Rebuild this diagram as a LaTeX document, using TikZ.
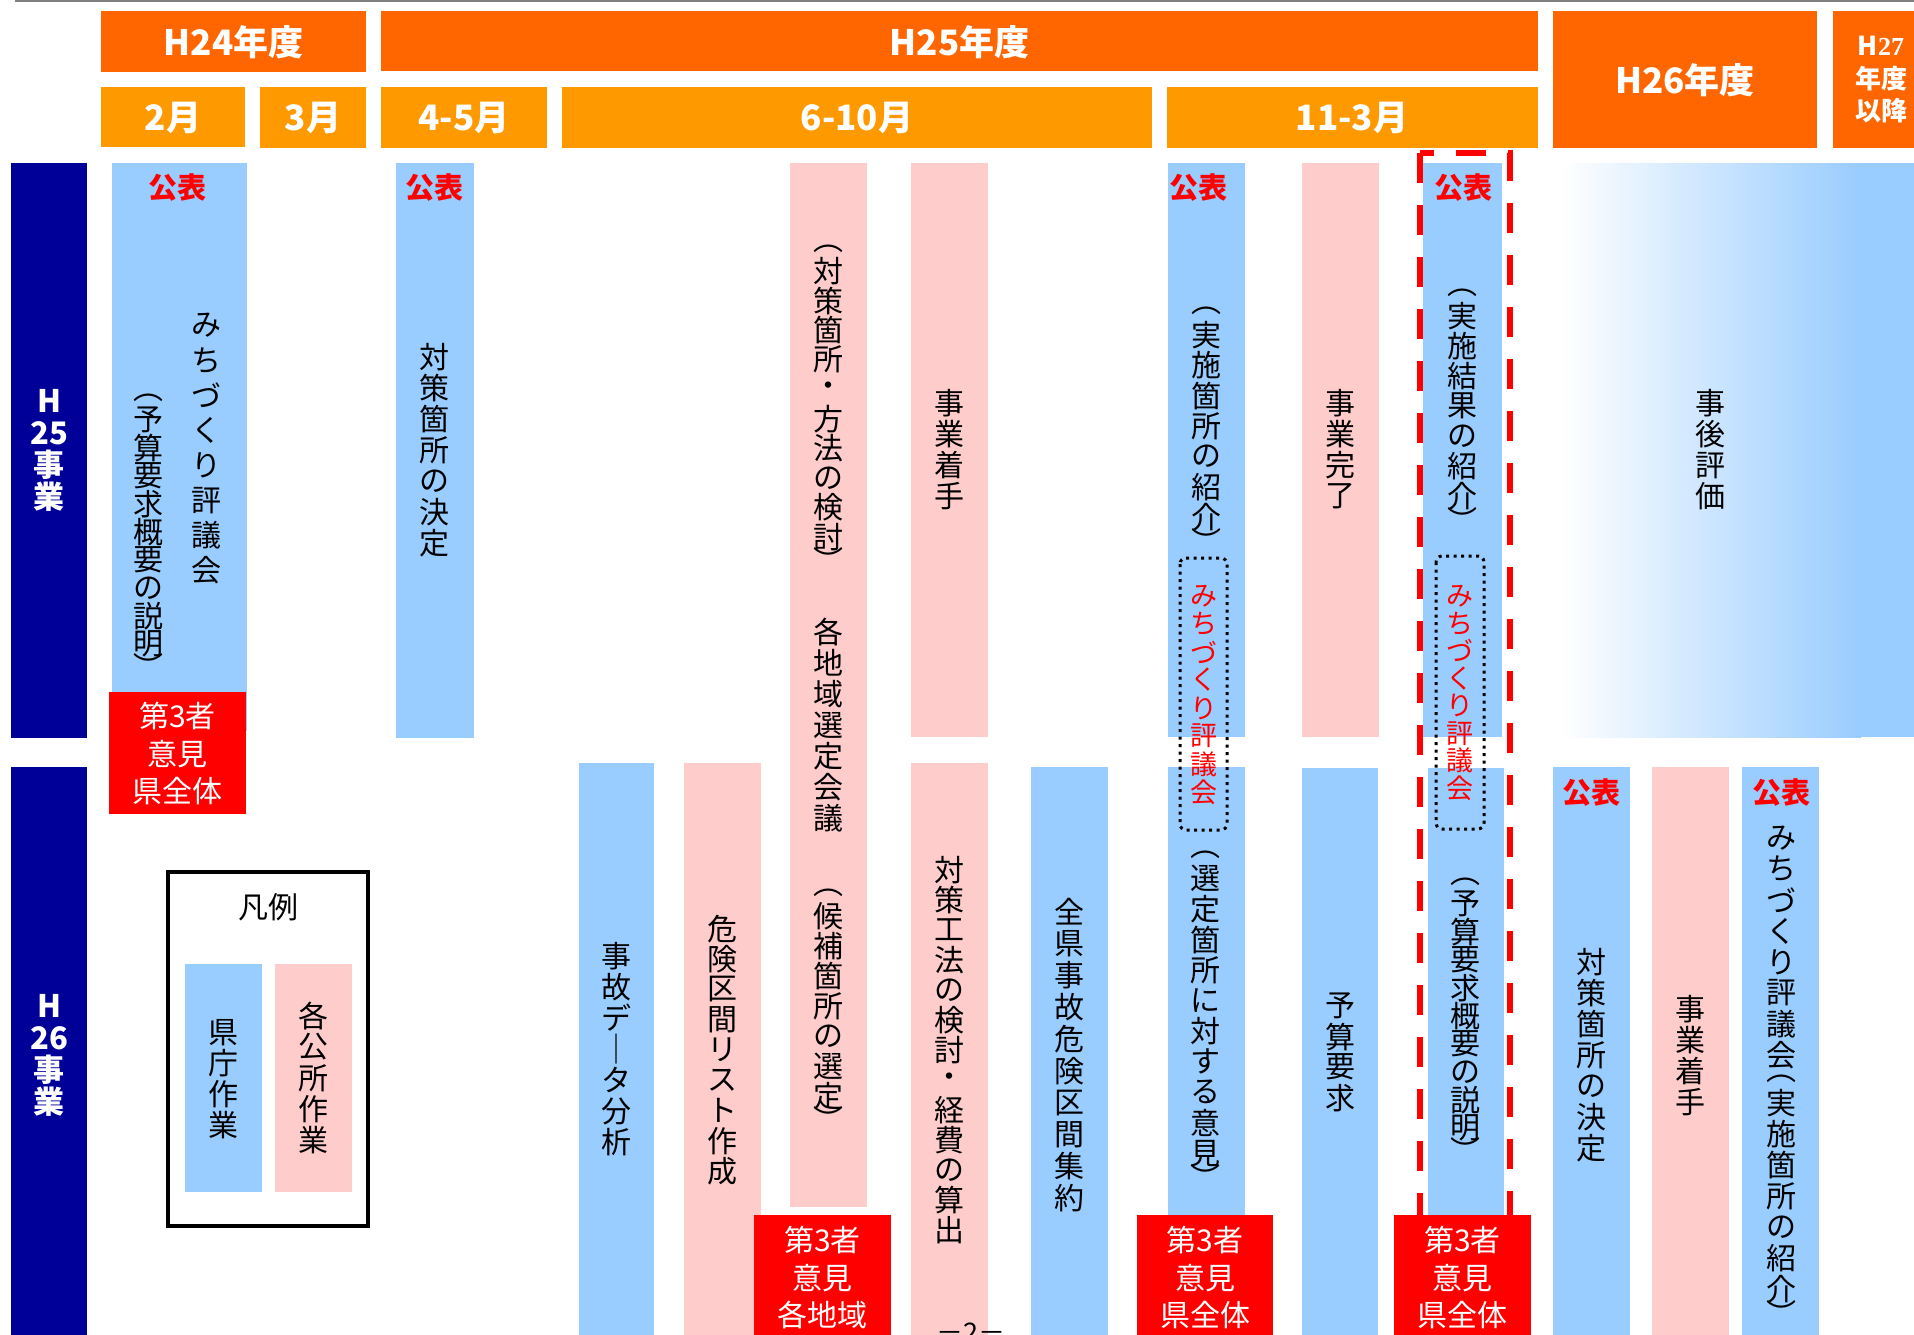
\documentclass[tikz,border=0pt]{standalone}
\usepackage{fontspec}
\usepackage{graphicx}
\setmainfont{Noto Sans CJK JP}
\newfontfamily\jp{Noto Sans CJK JP}
\newfontfamily\lserif{Liberation Serif}
\newcommand\fsz[1]{\fontsize{#1}{#1}\selectfont}
\definecolor{cblue}{HTML}{99CCFF}
\definecolor{cpink}{HTML}{FFCCCC}
\definecolor{cnavy}{HTML}{000099}
\definecolor{corange}{HTML}{FF6600}
\definecolor{clorange}{HTML}{FF9900}
\definecolor{cred}{HTML}{FF0000}
\makeatletter
\def\vt@po{（}\def\vt@pc{）}\def\vt@ln{ー}
\newdimen\vt@p
\newcommand\vt@box[2]{\hbox to 1.2em{\hss\vbox to #1{\vss\hbox{#2}\vss}\hss}}
\newcommand\vt[2]{\vbox{\offinterlineskip\vt@p=#1\relax
  \@tfor\vt@c:=#2\do{%
    \ifx\vt@c\vt@po\vt@box{0.55\vt@p}{︵}%
    \else\ifx\vt@c\vt@pc\vt@box{0.55\vt@p}{︶}%
    \else\ifx\vt@c\vt@ln\vt@box{\vt@p}{｜}%
    \else\vt@box{\vt@p}{\vt@c}\fi\fi\fi}}}
\makeatother
\begin{document}
\begin{tikzpicture}[x=1pt,y=-1pt]
\tikzset{
 lbl/.style={inner sep=0pt,outer sep=0pt},
 hdr/.style={lbl,text=white,font={\jp\bfseries\fsz{35}}},
 hdrs/.style={lbl,text=white,align=center,font={\jp\bfseries\fontsize{26}{32.5}\selectfont}},
 vtx/.style={lbl,text=black,font={\jp\fsz{30}}},
 vred/.style={lbl,text=cred,font={\jp\fsz{27}}},
 pub/.style={lbl,text=cred,font={\jp\bfseries\fsz{29}}},
 tp/.style={lbl,text=white,align=center,font={\jp\fontsize{30}{37.5}\selectfont}},
 navytxt/.style={lbl,text=white,align=center,font={\jp\bfseries\fontsize{31}{32}\selectfont}},
 dotbox/.style={draw=black,line width=3pt,dash pattern=on 3pt off 4.5pt,rounded corners=6pt},
 reddash/.style={draw=cred,line width=6pt,dash pattern=on 30pt off 22pt},
}
\useasboundingbox (0,0) rectangle (1914,1335);
\fill[white] (0,0) rectangle (1914,1335);
% top rule
\fill[gray] (15,0) rectangle (1914,2);
% header
\fill[corange] (101,11) rectangle (366,72);
\fill[corange] (381,11) rectangle (1538,71);
\fill[corange] (1553,11) rectangle (1817,148);
\fill[corange] (1833,11) rectangle (1914,148);
\fill[clorange] (101,87) rectangle (245,147);
\fill[clorange] (260,87) rectangle (366,148);
\fill[clorange] (381,87) rectangle (547,148);
\fill[clorange] (562,87) rectangle (1152,148);
\fill[clorange] (1167,87) rectangle (1538,148);
\node[hdr] (y24) at (233.5,42) {H24年度};
\node[hdr] (y25) at (959.5,42) {H25年度};
\node[hdr] (y26) at (1685,80) {H26年度};
\node[hdrs] (y27) at (1881,80) {H{\lserif 27}\\年度\\以降};
\node[hdr] (m2) at (173,118) {2月};
\node[hdr] (m3) at (313,118) {3月};
\node[hdr] (m45) at (464,118) {4-5月};
\node[hdr] (m610) at (857,118) {6-10月};
\node[hdr] (m113) at (1352,118) {11-3月};
% navy row labels
\fill[cnavy] (11,163) rectangle (87,738);
\fill[cnavy] (11,767) rectangle (87,1335);
\node[navytxt] (r25) at (49,450) {H\\25\\事\\業};
\node[navytxt] (r26) at (49,1055) {H\\26\\事\\業};
% top row bars
\fill[cblue] (112,163) rectangle (247,731);
\fill[cblue] (396,163) rectangle (474,738);
\fill[cpink] (790,163) rectangle (867,1207);
\fill[cpink] (911,163) rectangle (988,737);
\fill[cblue] (1168,163) rectangle (1245,737);
\fill[cpink] (1302,163) rectangle (1379,737);
\fill[cblue] (1423,163) rectangle (1502,737);
\shade[left color=white,right color=cblue] (1560,163) rectangle (1861,737);
\fill[cblue] (1860,163) rectangle (1914,737);
% bottom row bars
\fill[cblue] (579,763) rectangle (654,1335);
\fill[cpink] (684,763) rectangle (761,1335);
\fill[cpink] (911,763) rectangle (988,1335);
\fill[cblue] (1031,767) rectangle (1108,1335);
\fill[cblue] (1168,767) rectangle (1245,1215);
\fill[cblue] (1302,768) rectangle (1378,1335);
\fill[cblue] (1428,768) rectangle (1504,1215);
\fill[cblue] (1553,767) rectangle (1630,1335);
\fill[cpink] (1652,767) rectangle (1729,1335);
\fill[cblue] (1742,767) rectangle (1819,1335);
% red dashed highlight (bottom edge hidden under the red box)
\draw[reddash] (1420,153) rectangle (1510,1240);
% red third-party boxes
\fill[cred] (109,692) rectangle (246,814);
\fill[cred] (754,1215) rectangle (891,1340);
\fill[cred] (1137,1215) rectangle (1273,1340);
\fill[cred] (1394,1215) rectangle (1531,1340);
\node[tp] (o1) at (177.5,754) {第3者\\意見\\県全体};
\node[tp] (o2) at (822.5,1278) {第3者\\意見\\各地域};
\node[tp] (o3) at (1205,1278) {第3者\\意見\\県全体};
\node[tp] (o4) at (1462.5,1278) {第3者\\意見\\県全体};
% publish labels
\node[pub] (p1) at (177,188) {公表};
\node[pub] (p2) at (434,188) {公表};
\node[pub] (p3) at (1198,188) {公表};
\node[pub] (p4) at (1463,188) {公表};
\node[pub] (p5) at (1591,793) {公表};
\node[pub] (p6) at (1781,793) {公表};
% top row texts
\node[vtx] (t1) at (206,448) {\vt{35pt}{みちづくり評議会}};
\node[vtx] (t2) at (148,532) {\vt{28pt}{（予算要求概要の説明）}};
\node[vtx] (t3) at (434,450) {\vt{31pt}{対策箇所の決定}};
\node[vtx] (t4) at (828,404) {\vt{29.5pt}{（対策箇所・方法の検討）}};
\node[vtx] (t5) at (828,725) {\vt{31pt}{各地域選定会議}};
\node[vtx] (t6) at (828,1006) {\vt{30pt}{（候補箇所の選定）}};
\node[vtx] (t7) at (949.5,450) {\vt{31pt}{事業着手}};
\node[vtx] (t8) at (1206,426) {\vt{30.4pt}{（実施箇所の紹介）}};
\node[vtx] (t9) at (1340,450) {\vt{31pt}{事業完了}};
\node[vtx] (t10) at (1462,406) {\vt{30.1pt}{（実施結果の紹介）}};
\node[vtx] (t11) at (1710,450) {\vt{31pt}{事後評価}};
% mitizukuri in dotted boxes
\node[vred] (k1) at (1204,694) {\vt{28pt}{みちづくり評議会}};
\node[vred] (k2) at (1460,692) {\vt{27.5pt}{みちづくり評議会}};
\draw[dotbox] (1180,558) rectangle (1227,830);
\draw[dotbox] (1436,556) rectangle (1484,829);
% bottom row texts
\node[vtx] (b1) at (616,1049) {\vt{31pt}{事故データ分析}};
\node[vtx] (b2) at (722,1050) {\vt{30.3pt}{危険区間リスト作成}};
\node[vtx] (b3) at (949.5,1050) {\vt{30pt}{対策工法の検討・経費の算出}};
\node[vtx] (b4) at (1069,1055) {\vt{31.8pt}{全県事故危険区間集約}};
\node[vtx] (b5) at (1205,1016) {\vt{30.5pt}{（選定箇所に対する意見）}};
\node[vtx] (b6) at (1340,1052) {\vt{30.5pt}{予算要求}};
\node[vtx] (b7) at (1465,1016) {\vt{28pt}{（予算要求概要の説明）}};
\node[vtx] (b8) at (1591,1055) {\vt{30.9pt}{対策箇所の決定}};
\node[vtx] (b9) at (1690.5,1056) {\vt{31pt}{事業着手}};
\node[vtx] (b10) at (1781,1072) {\vt{31pt}{みちづくり評議会（実施箇所の紹介）}};
% legend
\draw[line width=3.5pt] (168,872) rectangle (368,1226);
\node[vtx] (lg) at (268,907) {凡例};
\fill[cblue] (185,964) rectangle (262,1192);
\fill[cpink] (275,964) rectangle (352,1192);
\node[vtx] (lg1) at (223.5,1079) {\vt{31pt}{県庁作業}};
\node[vtx] (lg2) at (313.5,1078) {\vt{31pt}{各公所作業}};
% page number (cut off)
\node[lbl,anchor=north,font={\jp\fsz{27}}] (pg) at (971,1323) {－2－};
\end{tikzpicture}
\end{document}
